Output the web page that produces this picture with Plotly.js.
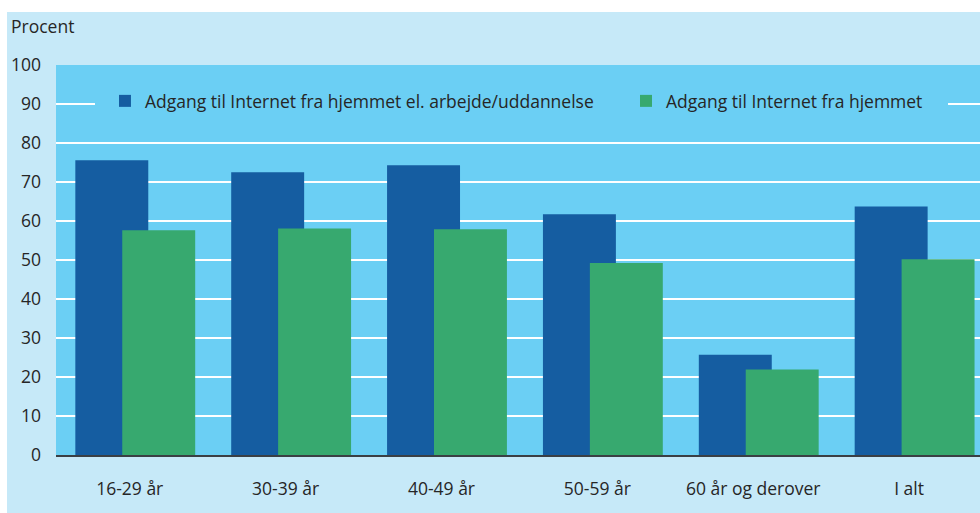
<!DOCTYPE html>
<html>
<head>
<meta charset="utf-8">
<script src="https://cdn.plot.ly/plotly-3.0.1.min.js"></script>
<style>html,body{margin:0;padding:0;background:#fff;}#chart{width:980px;height:513px;}</style>
</head>
<body>
<div id="chart"></div>
<script>
const categories = ["16-29 år", "30-39 år", "40-49 år", "50-59 år", "60 år og derover", "I alt"];
const seriesNames = ["Adgang til Internet fra hjemmet el. arbejde/uddannelse", "Adgang til Internet fra hjemmet"];
const homeOrWork = [75.6, 72.5, 74.3, 61.7, 25.7, 63.7];
const homeOnly = [57.6, 58.1, 57.9, 49.2, 21.9, 50.2];
const yTicks = [0, 10, 20, 30, 40, 50, 60, 70, 80, 90, 100];

const FONT = "'Open Sans', 'Noto Sans', sans-serif";
const TXT = "#262626";
const FS = 17.5;
const PLOTBG = "#6bcff4";

const traces = [
  {type: "bar", x: categories, y: homeOrWork, name: seriesNames[0], legend: "legend",
   marker: {color: "#155da1", line: {width: 0}}, width: 0.468, offset: -0.349, hoverinfo: "y"},
  {type: "bar", x: categories, y: homeOnly, name: seriesNames[1], legend: "legend2",
   marker: {color: "#37a96f", line: {width: 0}}, width: 0.468, offset: -0.048, hoverinfo: "y"}
];

const legendBase = {orientation: "h", yanchor: "middle", y: 0.9077, xanchor: "left",
  bgcolor: "rgba(0,0,0,0)", borderwidth: 0, font: {family: FONT, size: FS, color: TXT}};

const layout = {
  width: 980, height: 513,
  margin: {l: 56, r: 0, t: 65, b: 58, pad: 0},
  paper_bgcolor: "#c6e9f8",
  plot_bgcolor: PLOTBG,
  barmode: "overlay",
  font: {family: FONT, size: FS, color: TXT},
  showlegend: true,
  legend: Object.assign({}, legendBase, {x: 0.053}),
  legend2: Object.assign({}, legendBase, {x: 0.6169}),
  xaxis: {type: "category", range: [-0.473, 5.455], showgrid: false, zeroline: false,
          showline: true, linecolor: "#3a3f44", linewidth: 1.5,
          ticks: "outside", ticklen: 0, ticklabelstandoff: 17, fixedrange: true,
          tickfont: {family: FONT, size: FS, color: TXT}},
  yaxis: {range: [0, 100], tickvals: yTicks, showgrid: true, gridcolor: "#ffffff", gridwidth: 2,
          zeroline: false, showline: false, ticks: "", ticklabelstandoff: 14, fixedrange: true,
          tickfont: {family: FONT, size: FS, color: TXT}},
  shapes: [
    {type: "rect", xref: "paper", yref: "paper", x0: -0.07, x1: 1.01, y0: 1.1359, y1: 1.2, fillcolor: "#ffffff", line: {width: 0}, layer: "below"},
    {type: "rect", xref: "paper", yref: "paper", x0: -0.07, x1: -0.05303, y0: -0.2, y1: 1.2, fillcolor: "#ffffff", line: {width: 0}, layer: "below"},
    {type: "rect", xref: "paper", yref: "y", x0: 0.0422, x1: 0.9654, y0: 87.5, y1: 92.5, fillcolor: PLOTBG, line: {width: 0}, layer: "above"}
  ],
  annotations: [
    {text: "Procent", xref: "paper", yref: "paper", x: -0.051, y: 1.1, xanchor: "left", yanchor: "middle",
     showarrow: false, font: {family: FONT, size: FS, color: TXT}}
  ]
};

Plotly.newPlot("chart", traces, layout, {displayModeBar: false, staticPlot: true});
</script>
</body>
</html>
